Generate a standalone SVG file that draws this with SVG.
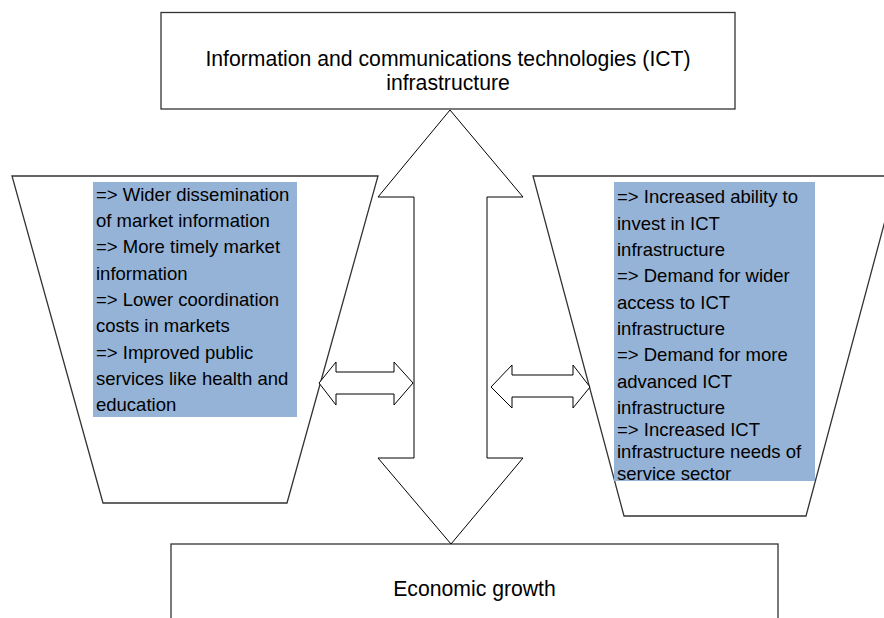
<svg xmlns="http://www.w3.org/2000/svg" width="884" height="618" viewBox="0 0 884 618">
<style>
.box{fill:#fff;stroke:#333;stroke-width:1.3}
.trap{fill:#fff;stroke:#333;stroke-width:1.3}
.arr{fill:#fff;stroke:#000;stroke-width:1}
.hl{fill:#95b3d7}
.t{font-family:"Liberation Sans",Arial,Helvetica,sans-serif;fill:#000}
.big{font-size:21.2px;text-anchor:middle}
.lst{font-size:18.5px}
</style>
<rect width="884" height="618" fill="#fff"/>
<g id="left-panel">
<polygon class="trap" points="12,176 378,176 287,503 103,503"/>
<rect class="hl" x="93" y="182" width="204" height="235"/>
<text class="t lst" x="96">
<tspan x="96" y="201">=&gt; Wider dissemination</tspan>
<tspan x="96" y="227">of market information</tspan>
<tspan x="96" y="253.3">=&gt; More timely market</tspan>
<tspan x="96" y="279.5">information</tspan>
<tspan x="96" y="305.7">=&gt; Lower coordination</tspan>
<tspan x="96" y="332">costs in markets</tspan>
<tspan x="96" y="358.5">=&gt; Improved public</tspan>
<tspan x="96" y="385">services like health and</tspan>
<tspan x="96" y="410.8">education</tspan>
</text>
</g>
<g id="right-panel">
<polygon class="trap" points="533,176 897,176 806,516 624,516"/>
<rect class="hl" x="614" y="182" width="201" height="299"/>
<text class="t lst">
<tspan x="617" y="203.3">=&gt; Increased ability to</tspan>
<tspan x="617" y="230">invest in ICT</tspan>
<tspan x="617" y="256">infrastructure</tspan>
<tspan x="617" y="282.3">=&gt; Demand for wider</tspan>
<tspan x="617" y="309">access to ICT</tspan>
<tspan x="617" y="335">infrastructure</tspan>
<tspan x="617" y="361.3">=&gt; Demand for more</tspan>
<tspan x="617" y="388">advanced ICT</tspan>
<tspan x="617" y="414">infrastructure</tspan>
<tspan x="617" y="435.5">=&gt; Increased ICT</tspan>
<tspan x="617" y="458">infrastructure needs of</tspan>
<tspan x="617" y="480">service sector</tspan>
</text>
</g>
<g id="ict">
<rect class="box" x="161" y="12.5" width="574" height="96.5"/>
<text class="t big" x="448" y="65.7">Information and communications technologies (ICT)</text>
<text class="t big" x="448" y="89.5">infrastructure</text>
</g>
<g id="growth">
<rect class="box" x="171" y="544" width="607" height="90"/>
<text class="t big" x="474.5" y="596">Economic growth</text>
</g>
<g id="connectors">
<polygon class="arr" points="450,110 523,197 487,197 487,458 523,458 451,544 378,458 414,458 414,197 378,197"/>
<polygon class="arr" points="319,383 336,362 336,372 394,372 394,362 413,383 394,405 394,394 336,394 336,405"/>
<polygon class="arr" points="491,387 512,365 512,375 573,375 573,365 590,387 573,408 573,397 512,397 512,408"/>
</g>
</svg>
